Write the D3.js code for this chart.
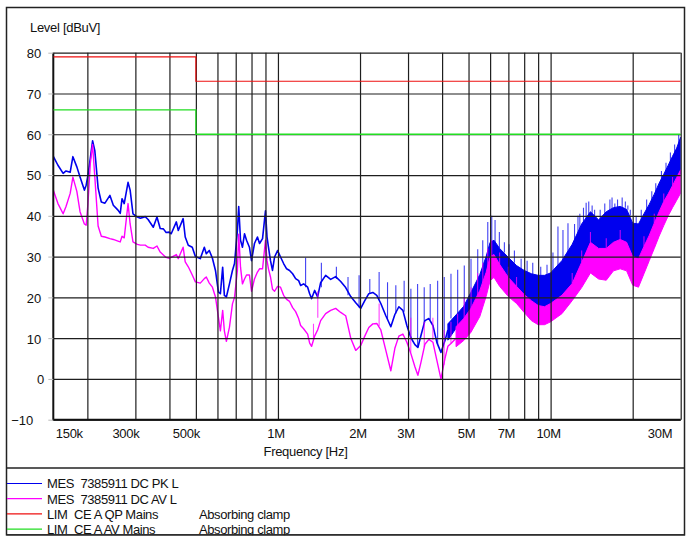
<!DOCTYPE html>
<html><head><meta charset="utf-8">
<script src="https://cdn.jsdelivr.net/npm/d3@7/dist/d3.min.js"></script>
<style>
body{margin:0;background:#fff;}
svg{display:block;}
text{font-family:"Liberation Sans",Arial,sans-serif;fill:#111;}
</style>
</head><body>
<svg id="c" width="686" height="536"></svg>
<script>
// ---------- data (frequency in MHz, level in dBuV) ----------
const xTickFreq  = [0.15, 0.3, 0.5, 1, 2, 3, 5, 7, 10, 30];
const xTickLabel = ["150k","300k","500k","1M","2M","3M","5M","7M","10M","30M"];
const xGridFreq  = [0.2,0.3,0.4,0.5,0.6,0.7,0.8,0.9,1,2,3,4,5,6,7,8,9,10,20,30];
const yTicks     = [-10,0,10,20,30,40,50,60,70,80];

const traceFreq = [0.150,0.156,0.163,0.167,0.173,0.177,0.183,0.188,0.195,0.198,0.201,0.205,0.209,0.213,0.219,0.225,0.232,0.242,0.249,0.259,0.264,0.268,0.273,0.282,0.287,0.294,0.305,0.313,0.326,0.334,0.349,0.360,0.370,0.380,0.389,0.399,0.406,0.424,0.431,0.449,0.457,0.469,0.485,0.498,0.519,0.537,0.546,0.560,0.575,0.590,0.605,0.615,0.627,0.636,0.647,0.664,0.681,0.693,0.710,0.718,0.729,0.741,0.754,0.767,0.786,0.800,0.820,0.841,0.856,0.878,0.900,0.912,0.923,0.939,0.955,0.972,0.997,1.022,1.049,1.076,1.103,1.132,1.161,1.191,1.211,1.242,1.285,1.307,1.329,1.363,1.398,1.434,1.496,1.561,1.628,1.699,1.772,1.849,1.929,2.012,2.082,2.154,2.228,2.304,2.384,2.487,2.594,2.684,2.776,2.872,2.970,3.073,3.179,3.260,3.344,3.459,3.578,3.701,3.829,3.961,4.097,4.2];
const pkLevel = [54.6,52.4,50.4,51,50.7,54.5,52,49.5,46.3,47.5,50,54,58.4,56,46.8,43.4,43.1,45,42.6,41.4,40.6,44.2,43,48.2,46.3,40.5,39.7,39.4,39.8,39.1,37.2,39.7,36.9,36.8,35.9,36,35.6,38.5,36.4,39.3,34.8,32.8,32.3,30,29.5,32.3,30.7,31.5,29.6,26.6,21.3,20.9,27.4,20.5,20.1,23.3,26.6,28.3,36.4,42.3,34,32.3,35.6,34,32.3,29,33.2,34.8,33.2,34.4,41.2,34.8,32.3,29,26.6,29.9,31.5,29.9,28.3,27,26.6,25.8,24.6,24.1,22.9,23.3,22.5,20.9,19.7,21.7,20.1,23.6,25.4,24.4,25.1,23.9,22.4,20.2,18.7,17.3,19.2,20.9,21.2,20.5,18.5,15.5,12.8,15.8,17.7,16.8,13.1,10.1,8.4,7.7,10.6,14.3,14.8,13.1,8.9,6.5,9.4,12];
const avLevel = [46.3,43,40.5,42.3,45.5,49.5,46,41,38,37.7,43,52.8,57.5,49.5,37.5,35,34.8,34.4,34.2,33.8,33.6,35,34.6,43,38,33.6,33,32.8,32.8,32.3,32,32.6,31.1,30.4,29.8,29.6,29.8,30.5,29.5,32.3,28.7,27.5,25.5,23.8,23.5,24.6,25,23.5,22.5,20.1,15.1,11.8,16.8,11.8,9.2,12.7,18.4,20,26.6,35.5,27.4,23.3,24.5,25.5,25.5,21.5,24.5,26.2,27,27,34,29,27,25,22,21.5,22.7,22.5,20.5,19.5,19,17.5,16.5,14.8,13.1,12.3,11,8.8,8,10.5,12,14.3,16,16.8,17.3,16.3,15.5,10,7,8.2,10.5,12.6,13.5,13.6,12,7,2,7.5,10.5,11,9,6.2,3,0.9,4,8.5,9.7,9,4.5,0,5,8];
const avTailFreq  = [4.2, 4.311, 4.5];
const avTailLevel = [8, 8.7, 10];

// dense upper range: band envelope (min / max of the sweep)
const pkBandFreq = [4.2,4.5,4.8,5.1,5.5,5.8,6.0,6.2,6.5,7.0,7.5,8.0,8.5,9.0,9.5,10,11,12,13,14,15,16,17,18,19,20,21,22,23,24,25,26,27,28,29,30];
const pkBandHi = [13.5,15.7,17.8,21.2,25.6,30,33.5,34,32,29.8,27.8,26.6,25.8,25.4,25.4,26,29,33,38,41,39,41,42,42.3,41.6,38.2,38,40.5,42.8,45.3,48,50.2,52.4,54.6,56.6,59.3];
const pkBandLo = [9.5,12.4,13.8,16.3,20.2,23.7,27.8,28.3,26.6,23,21,19.5,18,17,16.5,17.5,19.5,22.5,27.5,31,30,30.5,32,32.5,32,28.5,28,31.5,34,37,40,42.5,44.5,46.5,48.5,50.5];
const avBandFreq = [4.5,4.8,5.1,5.5,5.8,6.0,6.2,6.5,7.0,7.5,8.0,8.5,9.0,9.5,10,11,12,13,14,15,16,17,18,19,20,21,22,23,24,25,26,27,28,29,30];
const avBandHi = [12.8,14.8,17.3,21.7,26.1,30,30.5,28.1,24.9,22.7,20.7,19.2,18,17.7,18.5,20.5,23.4,28.6,33.5,32,32,33.5,34.2,33.5,30,29.5,32.5,35.2,38.2,41,43.5,45.4,47.4,49.4,51.3];
const avBandLo = [7.9,9.4,11.4,15.3,20.2,24.1,24.9,22.7,20.2,18.5,16.3,14.3,13.3,13.3,14,16,19.2,22.4,26,24.5,24.2,26.5,27,26.5,23,22.5,25.8,29,32,35,37.6,40,42,43.8,45.6];

// narrow harmonic spikes (frequency, foot level, peak level)
const pkSpikeFreq = [1.263,1.443,1.638,1.807,1.984,2.172,2.350,2.523,2.706,2.903,3.073,3.252,3.439,3.618,3.852,4.073,4.311,4.562,4.824,5.106,5.404,5.638,5.882,6.084,6.256,6.487,6.768,7.043,7.366,7.796,8.2,8.6,9.2,9.7,10.20,10.64,11.10,11.58,12.24,12.6,12.8,13.2,13.5,13.8,14.2,14.5,15.2,15.8,16.5,16.8,17.2,17.6,18.3,18.8,19.2,19.6,20.6,21.5,22.5,23.5,24.3,25.5,26.5,27.5,28.5,29.5];
const pkSpikeFoot = [22.5,22.5,24.5,20.5,17.5,20.8,19.5,14.5,16,16.5,10.1,7.8,13.5,14.5,8.5,9.5,14.8,16,17.5,21,24,27,31,33.5,33.5,32,31,30,28.5,27,26,25.4,25,25,25.5,27,28.5,30,32,34.5,36,37.5,38,39,39.5,39,38.5,40,40.5,41,41.5,42,42,42,41.5,40,37.5,38.5,41.5,43.5,45,48,50.5,53,55,57.5];
const pkSpikePeak = [29.7,28.5,27.5,25,25.4,24.5,26.2,23.7,23,24.1,22.1,23.3,22.5,23.3,24.1,25,25.8,26.8,27.8,29.5,31.8,34,38.5,40,39,36,33.5,33,31.5,29.5,29,28.5,27.5,28,31,37.4,36.5,38.2,38,40,40.5,42,43.2,43.5,42.5,41.5,41.5,43,44,44.5,43,44,44.5,43.5,42.5,41.5,40,41.5,44,46,48,51,53,55.5,57.5,60];
const avSpikeFreq = [1.35,1.40,2.35,3.07,3.44,3.70,4.07,4.31,4.56,4.82,5.11,5.40,5.64,5.88,6.08,6.5,7.0,7.5,12,13,14,16,18,22,24,26,28];
const avSpikeFoot = [9.5,15,13,6.5,7.8,9.5,3.5,8.7,11,14,16.5,20,23.5,27,30,28,24.9,22.7,23.4,28.6,33.5,32,34.2,32.5,38.2,43.5,47.4];
const avSpikePeak = [13.5,21.5,18.5,15,14,15,12,14,16,20,22.5,26,28.5,32,34,31,27.5,25,26,31.5,36,34.5,36.5,35,40.5,45.5,49.5];

// limit lines
const qpLimFreq  = [0.15, 0.5, 0.5, 30];
const qpLimLevel = [79, 79, 73, 73];
const avLimFreq  = [0.15, 0.5, 0.5, 30];
const avLimLevel = [66, 66, 60, 60];

const legendNames = ["MES  7385911 DC PK L","MES  7385911 DC AV L","LIM  CE A QP Mains","LIM  CE A AV Mains"];
const legendNotes = ["","","Absorbing clamp","Absorbing clamp"];

// ---------- drawing ----------
const C = {pk:"#0000ee", av:"#ff00ff", qp:"#ee1111", avl:"#22dd22", grid:"#1e1e1e"};
const svg = d3.select("#c");
const L = 53.3, R = 680.7, T = 52.7, B = 419.7;
const x = d3.scaleLog().domain([0.15, 30]).range([L, R]);
const y = d3.scaleLinear().domain([-10, 80]).range([B, T]);

svg.append("defs").append("clipPath").attr("id","clip")
  .append("rect").attr("x",L).attr("y",T-1).attr("width",R-L).attr("height",B-T+1);

// outer frame and legend separator
svg.append("rect").attr("x",6.5).attr("y",7.5).attr("width",678).attr("height",527.5)
  .attr("fill","none").attr("stroke","#222").attr("stroke-width",1.5);
svg.append("line").attr("x1",6.5).attr("x2",685).attr("y1",468).attr("y2",468)
  .attr("stroke","#222").attr("stroke-width",1.5);

const plot = svg.append("g").attr("clip-path","url(#clip)");

const line = d3.line().x(d=>x(d[0])).y(d=>y(d[1]));
const area = d3.area().x(d=>x(d[0])).y0(d=>y(d[1])).y1(d=>y(d[2]));

function drawSeries(freq, lev, bf, lo, hi, sf, sFoot, sPeak, col, w, tailF, tailL){
  const pts = freq.map((f,i)=>[f, lev[i]]);
  if (tailF) tailF.forEach((f,i)=>{ if (f > freq[freq.length-1]) pts.push([f, tailL[i]]); });
  plot.append("path").datum(pts).attr("d",line)
    .attr("fill","none").attr("stroke",col).attr("stroke-width",w).attr("stroke-linejoin","round");
  plot.append("path").datum(bf.map((f,i)=>[f, lo[i], hi[i]])).attr("d",area)
    .attr("fill",col).attr("stroke",col).attr("stroke-width",1);
  plot.append("g").selectAll("line").data(sf.map((f,i)=>[f, sFoot[i], sPeak[i]])).join("line")
    .attr("x1",d=>x(d[0])).attr("x2",d=>x(d[0]))
    .attr("y1",d=>y(d[1])).attr("y2",d=>y(d[2]))
    .attr("stroke",col).attr("stroke-width",1.1).attr("stroke-opacity",0.75);
}
drawSeries(traceFreq, pkLevel, pkBandFreq, pkBandLo, pkBandHi, pkSpikeFreq, pkSpikeFoot, pkSpikePeak, C.pk, 1.6);
drawSeries(traceFreq, avLevel, avBandFreq, avBandLo, avBandHi, avSpikeFreq, avSpikeFoot, avSpikePeak, C.av, 1.4, avTailFreq, avTailLevel);

// grid (drawn over the traces like the original)
const gx = svg.append("g").attr("transform",`translate(0,${B})`)
  .call(d3.axisBottom(x).tickValues(xGridFreq).tickSize(-(B-T)).tickFormat(""));
gx.select(".domain").remove();
gx.selectAll(".tick line").attr("stroke",C.grid).attr("stroke-width",1.2);
const gy = svg.append("g").attr("transform",`translate(${L},0)`)
  .call(d3.axisLeft(y).tickValues(yTicks).tickSize(-(R-L)).tickFormat(""));
gy.select(".domain").remove();
gy.selectAll(".tick line").attr("stroke",C.grid).attr("stroke-width",1.2);
// axis lines
svg.append("line").attr("x1",L).attr("x2",L).attr("y1",T).attr("y2",B+0.8).attr("stroke","#111").attr("stroke-width",2);
svg.append("line").attr("x1",L).attr("x2",R).attr("y1",B).attr("y2",B).attr("stroke","#111").attr("stroke-width",2);

// limit lines (above the grid)
const lim = svg.append("g").attr("clip-path","url(#clip)");
lim.append("path").datum(qpLimFreq.map((f,i)=>[f,qpLimLevel[i]])).attr("d",line)
  .attr("fill","none").attr("stroke",C.qp).attr("stroke-width",1.2);
lim.append("path").datum(avLimFreq.map((f,i)=>[f,avLimLevel[i]])).attr("d",line)
  .attr("fill","none").attr("stroke",C.avl).attr("stroke-width",1.3);

// y labels
const ya = svg.append("g").attr("transform",`translate(${L},0)`)
  .call(d3.axisLeft(y).tickValues(yTicks).tickSize(5).tickPadding(7).tickFormat(d3.format("d")));
ya.select(".domain").remove();
ya.selectAll(".tick line").attr("stroke","#bbb");
ya.selectAll("text").attr("font-size",13).attr("font-family","Liberation Sans, Arial, sans-serif").attr("fill","#111")
  .attr("dy","0.38em").attr("dx", d => d < 0 ? -8 : (d === 0 ? 3 : 0));

// x labels
const xa = svg.append("g").attr("transform",`translate(0,${B})`)
  .call(d3.axisBottom(x).tickValues(xTickFreq).tickSize(0).tickPadding(9)
    .tickFormat((d,i)=>xTickLabel[i]));
xa.select(".domain").remove();
xa.selectAll("text").attr("font-size",13).attr("font-family","Liberation Sans, Arial, sans-serif").attr("fill","#111")
  .attr("letter-spacing","-0.3")
  .attr("text-anchor",(d,i)=> i===0 ? "start" : (i===xTickFreq.length-1 ? "end" : "middle"))
  .attr("dx",(d,i)=> i===0 ? 2 : (i===xTickFreq.length-1 ? -9 : (d < 1 ? -10 : -2.5)));

// titles
svg.append("text").attr("x",30).attr("y",31.5).attr("font-size",13).attr("letter-spacing","-0.3").text("Level [dBuV]");
svg.append("text").attr("x",305.5).attr("y",456).attr("text-anchor","middle").attr("font-size",13)
  .attr("letter-spacing","-0.3").text("Frequency [Hz]");

// legend
const lgColors = [C.pk, C.av, C.qp, C.avl];
const lg = svg.append("g");
legendNames.forEach((name,i)=>{
  const cy = 483.5 + i*15.2;
  lg.append("line").attr("x1",7).attr("x2",42).attr("y1",cy).attr("y2",cy)
    .attr("stroke",lgColors[i]).attr("stroke-width",1.2);
  lg.append("text").attr("x",47).attr("y",cy+4.8).attr("font-size",13).attr("letter-spacing","-0.4")
    .style("white-space","pre").text(name);
  if (legendNotes[i]) lg.append("text").attr("x",199).attr("y",cy+4.8).attr("font-size",13)
    .attr("letter-spacing","-0.4").text(legendNotes[i]);
});
// keep frame bottom on top of cut legend row
svg.append("line").attr("x1",6.5).attr("x2",685).attr("y1",535).attr("y2",535).attr("stroke","#222").attr("stroke-width",1.5);
svg.append("rect").attr("x",0).attr("y",535.8).attr("width",686).attr("height",1).attr("fill","#fff");
</script>
</body></html>
